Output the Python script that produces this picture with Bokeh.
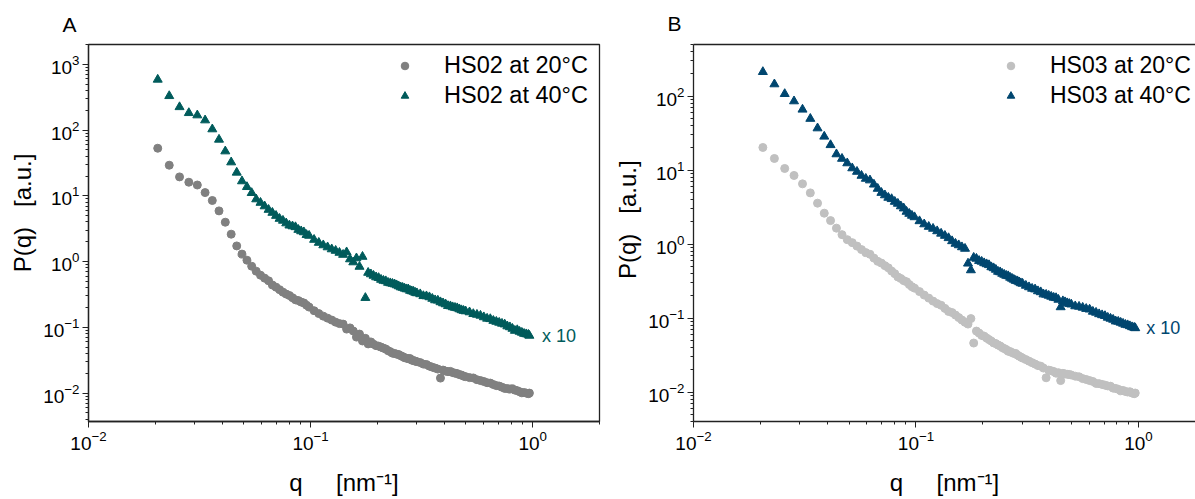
from bokeh.plotting import figure
from bokeh.layouts import row
from bokeh.models import Legend, LegendItem, Label, FixedTicker, LogAxis
from bokeh.embed import file_html
from bokeh.resources import INLINE

FONT = "Liberation Sans"

# ---------------- data ----------------
q = [0.0205, 0.0231, 0.0257, 0.0283, 0.0309, 0.0335, 0.0361, 0.0387, 0.0413, 0.0439,
     0.0465, 0.0491, 0.0517, 0.0543, 0.0569, 0.0595, 0.0621, 0.0647, 0.0673, 0.0699,
     0.0725, 0.0751, 0.0777, 0.0803, 0.0829, 0.0855, 0.0881, 0.0907, 0.0933, 0.0959, 0.0985,
     0.1037, 0.1089, 0.1141, 0.1193, 0.1245, 0.1297, 0.1349, 0.1401, 0.1453, 0.1505,
     0.1557, 0.1609, 0.1661, 0.1713, 0.1765, 0.1817, 0.1869, 0.1921, 0.1973, 0.2025,
     0.2077, 0.2129, 0.2181, 0.2233, 0.2285, 0.2337, 0.2389, 0.2441, 0.2493, 0.2545,
     0.2597, 0.2649, 0.2701, 0.2753, 0.2805, 0.2857, 0.2909, 0.2961,
     0.3013, 0.3117, 0.3221, 0.3325, 0.3429, 0.3533, 0.3637, 0.3741, 0.3845, 0.3949,
     0.4053, 0.4157, 0.4261, 0.4365, 0.4469, 0.4573, 0.4677, 0.4781, 0.4885, 0.4989,
     0.5197, 0.5405, 0.5613, 0.5821, 0.6029, 0.6237, 0.6445, 0.6653, 0.6861, 0.7069,
     0.7277, 0.7485, 0.7693, 0.7901, 0.8109, 0.8317, 0.8525, 0.8733, 0.8941, 0.9149,
     0.9357, 0.9565, 0.9669]

hs02_20 = [52.9, 29.2, 19.4, 16.1, 14.6, 11.2, 8.49, 5.90, 3.97, 2.61,
           1.73, 1.30, 1.05, 0.851, 0.714, 0.621, 0.560, 0.510, 0.440, 0.408,
           0.374, 0.343, 0.320, 0.305, 0.282, 0.262, 0.255, 0.242, 0.235, 0.217, 0.203,
           0.179, 0.162, 0.148, 0.138, 0.129, 0.120, 0.114, 0.112, 0.094, 0.098,
           0.088, 0.071, 0.079, 0.062, 0.068, 0.056, 0.060, 0.0555, 0.0527, 0.0518,
           0.0500, 0.0483, 0.0468, 0.0442, 0.0427, 0.0405, 0.0401, 0.0391, 0.0386, 0.0371,
           0.0359, 0.0346, 0.0340, 0.0334, 0.0335, 0.0317, 0.0312, 0.0306,
           0.0301, 0.0291, 0.0276, 0.0272, 0.0257, 0.0248, 0.0240, 0.0232, 0.0169, 0.0224,
           0.0216, 0.0212, 0.0214, 0.0205, 0.0201, 0.0198, 0.0191, 0.0188, 0.0181, 0.0178,
           0.0172, 0.0170, 0.0160, 0.0155, 0.0150, 0.0144, 0.0142, 0.0135, 0.0130, 0.0128,
           0.0123, 0.0118, 0.0117, 0.0115, 0.0116, 0.0111, 0.0109, 0.0105, 0.0101, 0.0102,
           0.0100, 0.0098, 0.0100]

hs02_40 = [586, 330, 224, 182, 168, 141, 103, 71.7, 47.6, 32.4,
           22.6, 16.7, 13.65, 11.07, 8.88, 7.86, 6.95, 6.15, 5.54, 4.98,
           4.49, 4.20, 3.83, 3.55, 3.45, 3.35, 3.05, 2.90, 2.80, 2.55, 2.48,
           2.152, 1.938, 1.776, 1.655, 1.543, 1.464, 1.366, 1.273, 1.390, 1.088,
           0.979, 1.126, 0.837, 1.187, 0.281, 0.678, 0.643, 0.611, 0.579, 0.565,
           0.531, 0.513, 0.505, 0.478, 0.470, 0.461, 0.452, 0.438, 0.423, 0.408,
           0.401, 0.390, 0.381, 0.380, 0.361, 0.355, 0.349, 0.337,
           0.331, 0.320, 0.300, 0.298, 0.288, 0.273, 0.259, 0.256, 0.242, 0.233,
           0.225, 0.212, 0.210, 0.203, 0.199, 0.196, 0.189, 0.183, 0.179, 0.176,
           0.170, 0.160, 0.156, 0.151, 0.143, 0.136, 0.134, 0.126, 0.122, 0.118,
           0.114, 0.111, 0.104, 0.1007, 0.0955, 0.0890, 0.0910, 0.0860, 0.0831, 0.0800,
           0.0788, 0.0774, 0.0748]

hs03_20 = [20.27, 14.39, 10.54, 8.48, 6.53, 4.93, 3.58, 2.62, 2.08, 1.645,
           1.344, 1.150, 1.048, 0.940, 0.843, 0.768, 0.730, 0.647, 0.585, 0.554,
           0.512, 0.478, 0.432, 0.399, 0.360, 0.343, 0.321, 0.310, 0.284, 0.266, 0.254,
           0.228, 0.2046, 0.1863, 0.1697, 0.1570, 0.1490, 0.1353, 0.1230, 0.1187, 0.1098,
           0.1016, 0.0940, 0.0877, 0.0830, 0.0985, 0.0460, 0.0667, 0.0627, 0.0584, 0.0570,
           0.0537, 0.0512, 0.0489, 0.0462, 0.0452, 0.0432, 0.0420, 0.0399, 0.0387, 0.0375,
           0.0356, 0.0353, 0.0342, 0.0333, 0.0333, 0.0316, 0.0306, 0.0297,
           0.0288, 0.0275, 0.0262, 0.0250, 0.0239, 0.0228, 0.0224, 0.0211, 0.0156, 0.0198,
           0.0194, 0.0190, 0.0180, 0.0183, 0.0143, 0.0179, 0.0176, 0.0174, 0.0173, 0.0170,
           0.0164, 0.0161, 0.0152, 0.0148, 0.0143, 0.0139, 0.0131, 0.0130, 0.0127, 0.0124,
           0.0121, 0.0120, 0.0113, 0.0112, 0.0109, 0.0104, 0.0105, 0.0102, 0.0100, 0.0101,
           0.0097, 0.0095, 0.0097]

hs03_40 = [213.0, 145.3, 107.4, 85.6, 66.1, 49.6, 36.9, 28.5, 21.9, 16.45,
           14.30, 12.43, 10.64, 9.54, 8.43, 7.68, 7.30, 6.41, 5.62, 4.95,
           4.59, 4.25, 4.08, 3.75, 3.53, 3.26, 3.05, 2.75, 2.58, 2.43, 2.32,
           2.05, 1.86, 1.72, 1.62, 1.50, 1.39, 1.30, 1.21, 1.10, 1.016,
           0.969, 0.911, 0.869, 0.548, 0.445, 0.657, 0.637, 0.595, 0.580, 0.554,
           0.537, 0.522, 0.489, 0.474, 0.452, 0.425, 0.418, 0.399, 0.387, 0.375,
           0.370, 0.353, 0.342, 0.331, 0.320, 0.316, 0.306, 0.297,
           0.2926, 0.2749, 0.2623, 0.2504, 0.2450, 0.2317, 0.2246, 0.2100, 0.2078, 0.2014,
           0.1952, 0.1892, 0.1870, 0.1778, 0.1408, 0.1697, 0.1645, 0.1595, 0.1561, 0.1532,
           0.1450, 0.1430, 0.1387, 0.1336, 0.1310, 0.1224, 0.1187, 0.1133, 0.1098, 0.1070,
           0.1016, 0.0985, 0.0954, 0.0905, 0.0897, 0.0869, 0.0843, 0.0815, 0.0804, 0.0780,
           0.0756, 0.0744, 0.0733]

x_ticks = [0.01, 0.1, 1.0]
y_ticks = [0.01, 0.1, 1.0, 10.0, 100.0, 1000.0]
scale_note = "x 10"

GREY = "#808080"
LIGHT = "#c0c0c0"
TEAL = "#005b5b"
BLUE = "#00466f"
AXC = "#222222"

minor = [m * 10.0 ** e for e in range(-3, 4) for m in range(2, 10)]

NB = "\u00a0"
xlabel = "q" + NB * 5 + "[nm\u207b\u00b9]"


def make_fig(width, bl, br, x_end, y_start, y_end, title, ylab):
    p = figure(width=width, height=499, x_axis_type="log", y_axis_type="log",
               x_range=(0.01, x_end), y_range=(y_start, y_end),
               output_backend="svg", toolbar_location=None,
               min_border_left=bl, min_border_right=br,
               min_border_top=44, min_border_bottom=78, title=title)
    p.grid.visible = False
    p.background_fill_color = "white"
    p.border_fill_color = "white"
    p.title.text_font = FONT
    p.title.text_font_size = "21px"
    p.title.text_font_style = "normal"
    p.title.text_color = "black"
    p.title.align = "left"
    p.title.offset = -26
    p.title.standoff = 17
    for ax in (p.below[0], p.left[0]):
        ax.axis_line_color = AXC
        ax.axis_line_width = 1.3
        ax.major_tick_line_color = AXC
        ax.minor_tick_line_color = AXC
        ax.major_tick_out = 6
        ax.major_tick_in = 0
        ax.minor_tick_out = 3
        ax.minor_tick_in = 0
        ax.major_label_text_font = FONT
        ax.major_label_text_font_size = "19px"
        ax.major_label_text_color = "black"
        ax.major_label_standoff = 3
        ax.axis_label_text_font = FONT
        ax.axis_label_text_font_size = "24px"
        ax.axis_label_text_font_style = "normal"
        ax.axis_label_text_color = "black"
    p.below[0].ticker = FixedTicker(ticks=x_ticks, minor_ticks=minor)
    p.left[0].ticker = FixedTicker(ticks=y_ticks, minor_ticks=minor)
    p.below[0].axis_label = xlabel
    p.below[0].axis_label_standoff = 16
    p.left[0].axis_label = ylab
    p.left[0].axis_label_standoff = 4
    return p


def legend_for(r1, r2, l1, l2, location, size):
    return Legend(items=[LegendItem(label=l1, renderers=[r1]),
                         LegendItem(label=l2, renderers=[r2])],
                  location=location, margin=0, padding=4, spacing=3,
                  glyph_width=19, glyph_height=27, label_height=27,
                  label_standoff=30, label_text_font=FONT,
                  label_text_font_size=size, label_text_color="black",
                  border_line_color=None, background_fill_alpha=0)


# ---------------- panel A ----------------
pA = make_fig(610, 88, 11, 2.0, 0.0037, 2000, "A",
              NB * 6 + "P(q)" + NB * 3 + "[a.u.]")
pA.outline_line_color = AXC
pA.outline_line_width = 1.3
rA1 = pA.scatter(q, hs02_20, marker="circle", size=8, fill_color=GREY, line_color=GREY)
rA2 = pA.scatter(q, hs02_40, marker="triangle", size=9, fill_color=TEAL, line_color=TEAL)
pA.add_layout(legend_for(rA1, rA2, "HS02 at 20°C", "HS02 at 40°C", (307, 312), "23.5px"))
pA.add_layout(Label(x=q[-1] * 1.14, y=hs02_40[-1], text=scale_note, text_baseline="middle",
                    text_color=TEAL, text_font=FONT, text_font_size="18px"))

# ---------------- panel B ----------------
pB = make_fig(585, 83, 0, 1.804, 0.004, 500, "B",
              NB * 4 + "P(q)" + NB * 3 + "[a.u.]")
pB.outline_line_color = None
pB.title.standoff = 19
rB1 = pB.scatter(q, hs03_20, marker="circle", size=8, fill_color=LIGHT, line_color=LIGHT)
rB2 = pB.scatter(q, hs03_40, marker="triangle", size=9, fill_color=BLUE, line_color=BLUE)
pB.add_layout(legend_for(rB1, rB2, "HS03 at 20°C", "HS03 at 40°C", (308, 312), "23px"))
pB.add_layout(Label(x=q[-1] * 1.12, y=hs03_40[-1], text=scale_note, text_baseline="middle",
                    text_color=BLUE, text_font=FONT, text_font_size="18px"))
top_axis = LogAxis(ticker=FixedTicker(ticks=[]), major_tick_out=0, minor_tick_out=0,
                   major_tick_in=0, minor_tick_in=0, major_label_text_font_size="0px",
                   axis_line_color=AXC, axis_line_width=1.3)
pB.add_layout(top_axis, "above")

layout = row(pA, pB)
open("out.html", "w").write(file_html(layout, INLINE))
